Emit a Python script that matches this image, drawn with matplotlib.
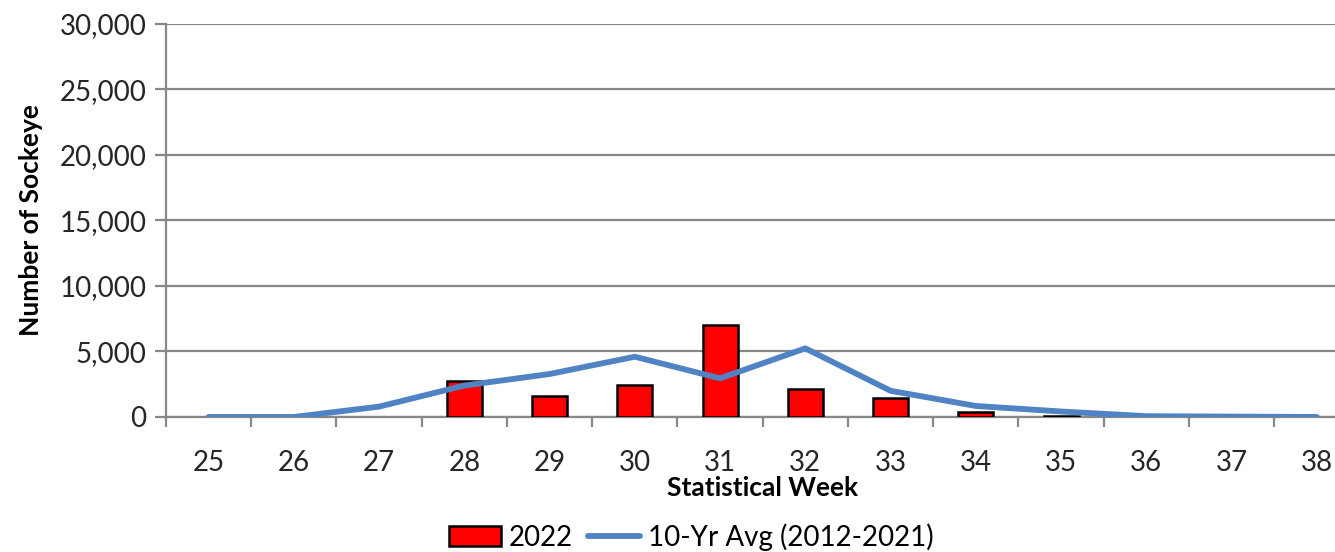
import numpy as np
import matplotlib.pyplot as plt
from matplotlib.ticker import FuncFormatter

plt.rcParams['font.family'] = ['Lato', 'DejaVu Sans']

weeks = [25, 26, 27, 28, 29, 30, 31, 32, 33, 34, 35, 36, 37, 38]
count_2022 = [0, 0, 0, 2770, 1630, 2440, 7020, 2110, 1430, 400, 90, 0, 0, 0]
avg_10yr = [0, 0, 790, 2400, 3280, 4600, 2950, 5240, 2000, 840, 420, 60, 30, 0]

grey = '#878787'
blue = '#5083C3'

fig = plt.figure(figsize=(13.35, 5.52), dpi=100)
ax = fig.add_axes([0.1243, 0.2446, 0.894, 0.712])

x = np.arange(len(weeks))
counts = np.array(count_2022, dtype=float)
has = counts > 0  # Excel draws nothing for empty weeks
bars = ax.bar(x[has], counts[has], width=0.41, color='#FF0000', edgecolor='black',
              linewidth=1.8, label='2022', zorder=3)
line, = ax.plot(x, avg_10yr, color=blue, linewidth=4.2, label='10-Yr Avg (2012-2021)',
                zorder=4, solid_capstyle='round', solid_joinstyle='round')

ax.set_xlim(-0.5, len(weeks) - 0.5)
ax.set_ylim(0, 30000)
ax.set_yticks(np.arange(0, 30001, 5000))
ax.yaxis.set_major_formatter(FuncFormatter(lambda v, p: f'{int(v):,}'))
ax.set_xticks(x)
ax.set_xticklabels([str(w) for w in weeks])
ax.set_xticks(np.arange(-0.5, len(weeks), 1), minor=True)

ax.grid(axis='y', color=grey, linewidth=1.6, zorder=0)
ax.set_axisbelow(True)
for s in ['top', 'right']:
    ax.spines[s].set_visible(False)
for s in ['left', 'bottom']:
    ax.spines[s].set_color(grey)
    ax.spines[s].set_linewidth(1.6)

ax.tick_params(axis='y', length=8, width=1.6, color=grey, labelsize=20,
               labelcolor='#262626', pad=6)
ax.tick_params(axis='x', which='major', length=0, labelsize=20,
               labelcolor='#262626', pad=24)
ax.tick_params(axis='x', which='minor', length=7, width=1.6, color=grey)

ax.set_xlabel('Statistical Week', fontsize=19, fontweight='bold', labelpad=0)
ax.set_ylabel('Number of Sockeye', fontsize=19, fontweight='bold', labelpad=12)

fig.legend([bars, line], ['2022', '10-Yr Avg (2012-2021)'], loc='center',
           bbox_to_anchor=(0.518, 0.027), ncol=2, frameon=False,
           fontsize=20, handlelength=1.85, handleheight=0.7, columnspacing=0.55,
           handletextpad=0.3)

fig.savefig('out.png', dpi=100)
